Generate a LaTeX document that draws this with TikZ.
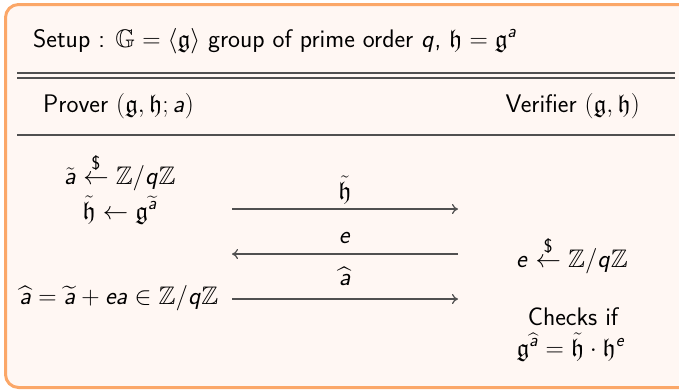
\RequirePackage{fix-cm}
\documentclass[tikz,border=0pt]{standalone}
\usepackage{amsmath,amssymb}
\usetikzlibrary{arrows.meta}
\DeclareSymbolFont{sfsl}{OT1}{cmss}{m}{sl}
\DeclareMathSymbol{a}{\mathalpha}{sfsl}{`a}
\DeclareMathSymbol{e}{\mathalpha}{sfsl}{`e}
\DeclareMathSymbol{q}{\mathalpha}{sfsl}{`q}
\DeclareMathSizes{25.5}{25.5}{18.6}{14}
\definecolor{blockborder}{RGB}{251,167,104}
\definecolor{blockfill}{RGB}{255,247,243}
\definecolor{rulegray}{RGB}{80,80,80}
\tikzset{
  txt/.style={inner sep=0pt, font=\sffamily\fontsize{25.5}{30}\selectfont},
  rulel/.style={draw=rulegray, line width=1.3bp},
  msg/.style={draw=rulegray, line width=1.2bp},
  msgarrow/.style={msg, -{To[length=6bp,width=10bp]}},
}
\begin{document}
\begin{tikzpicture}[x=1bp,y=-1bp]
\useasboundingbox (0,0) rectangle (679,390);
\draw[fill=blockfill, draw=blockborder, line width=3bp, rounded corners=13bp] (5.5,4.5) rectangle (695,387.5);
% header
\node[txt, anchor=base west] (setup) at (33,47) {Setup : $\mathbb{G}=\langle\mathfrak{g}\rangle$ group of prime order $q$, $\mathfrak{h}=\mathfrak{g}^{a}$};
\coordinate (d1l) at (17,73); \coordinate (d1r) at (675,73);
\coordinate (d2l) at (17,78); \coordinate (d2r) at (675,78);
\draw[rulel] (d1l) -- (d1r);
\draw[rulel] (d2l) -- (d2r);
\node[txt, anchor=base west] (prover) at (43,112) {Prover $(\mathfrak{g},\mathfrak{h};a)$};
\node[txt, anchor=base east] (verifier) at (640,112) {Verifier $(\mathfrak{g},\mathfrak{h})$};
\coordinate (r3l) at (17,135); \coordinate (r3r) at (675,135);
\draw[rulel] (r3l) -- (r3r);
% prover side
\node[txt, anchor=base] (p1) at (120,184) {$\tilde{a}\stackrel{\text{\$}}{\leftarrow}\mathbb{Z}/q\mathbb{Z}$};
\node[txt, anchor=base] (p2) at (120,219) {$\tilde{\mathfrak{h}}\leftarrow\mathfrak{g}^{\widetilde{a}}$};
\node[txt, anchor=base] (p3) at (119,304) {$\widehat{a}=\widetilde{a}+ea\in\mathbb{Z}/q\mathbb{Z}$};
% messages
\coordinate (m1s) at (232,209); \coordinate (m1e) at (458,209);
\coordinate (m2s) at (458,254); \coordinate (m2e) at (232,254);
\coordinate (m3s) at (232,299); \coordinate (m3e) at (458,299);
\draw[msgarrow] (m1s) -- (m1e);
\draw[msgarrow] (m2s) -- (m2e);
\draw[msgarrow] (m3s) -- (m3e);
\node[txt, anchor=base] (l1) at (345,199) {$\tilde{\mathfrak{h}}$};
\node[txt, anchor=base] (l2) at (345,243) {$e$};
\node[txt, anchor=base] (l3) at (345,285) {$\widehat{a}$};
% verifier side
\node[txt, anchor=base] (v1) at (572,267) {$e\stackrel{\text{\$}}{\leftarrow}\mathbb{Z}/q\mathbb{Z}$};
\node[txt, anchor=base] (v2) at (573,325) {Checks if};
\node[txt, anchor=base] (v3) at (571,356) {$\mathfrak{g}^{\widehat{a}}=\tilde{\mathfrak{h}}\cdot\mathfrak{h}^{e}$};
\end{tikzpicture}
\end{document}
